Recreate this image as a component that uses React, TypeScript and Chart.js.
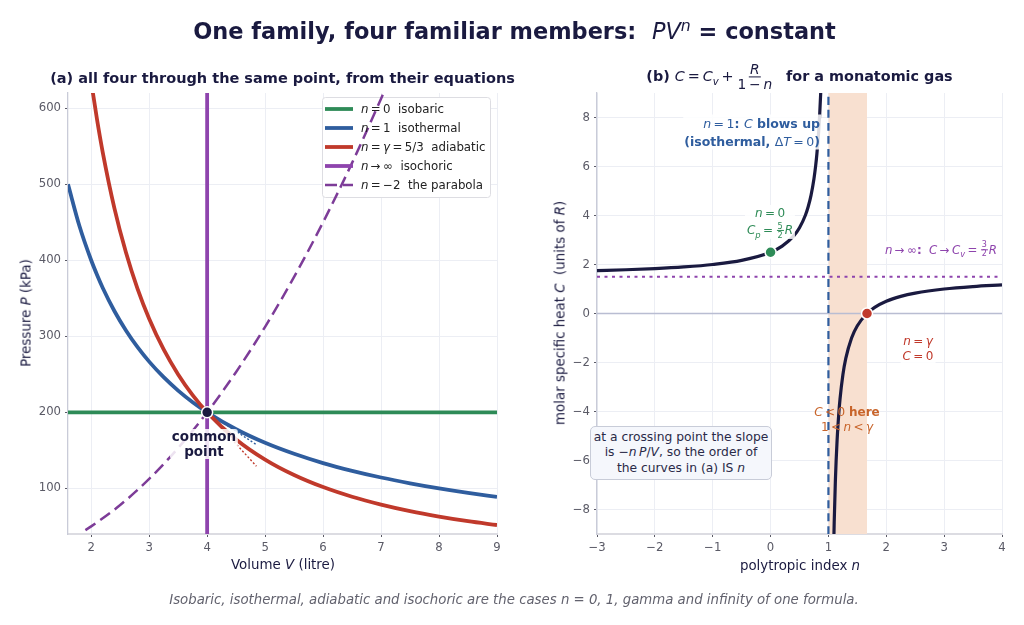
import { useEffect, useRef } from "react";
import type { CSSProperties, ReactNode } from "react";
import { Chart, registerables } from "chart.js";

Chart.register(...registerables);

const NAVY = "#1a1a40";
const GREEN = "#2e8b57";
const BLUE = "#2f5d9e";
const RED = "#c0392b";
const PURPLE = "#8e44ad";
const DEEP_PURPLE = "#7d3c98";
const ORANGE = "#c8642a";
const FONT = "'DejaVu Sans', sans-serif";

// panel (a): pressure against volume
const volumes = [1.6, 1.8, 2, 2.1, 2.2, 2.4, 2.6, 2.8, 3, 3.25, 3.5, 3.75, 4, 4.5, 5, 5.5, 6, 6.5, 7, 7.5, 8, 8.5, 9];
const isobaric = [200, 200, 200, 200, 200, 200, 200, 200, 200, 200, 200, 200, 200, 200, 200, 200, 200, 200, 200, 200, 200, 200, 200];
const isothermal = [500, 444.4, 400, 381, 363.6, 333.3, 307.7, 285.7, 266.7, 246.2, 228.6, 213.3, 200, 177.8, 160, 145.5, 133.3, 123.1, 114.3, 106.7, 100, 94.1, 88.9];
const adiabaticV = [2, 2.1, 2.2, 2.4, 2.6, 2.8, 3, 3.25, 3.5, 3.75, 4, 4.5, 5, 5.5, 6, 6.5, 7, 7.5, 8, 8.5, 9];
const adiabatic = [635, 585.4, 541.7, 468.6, 410.1, 362.4, 323.1, 282.7, 249.9, 222.7, 200, 164.4, 137.9, 117.6, 101.7, 89, 78.7, 70.1, 63, 56.9, 51.8];
const parabolaV = [1.9, 2, 2.5, 3, 3.5, 4, 4.5, 5, 5.5, 6, 6.5, 7, 7.1];
const parabola = [45.1, 50, 78.1, 112.5, 153.1, 200, 253.1, 312.5, 378.1, 450, 528.1, 612.5, 630.1];
const isochoricV = [4, 4];
const isochoricP = [40, 620];
const tangentV = [4, 4.85];
const tangentIso = [200, 157.5];
const tangentAdi = [200, 129.2];
const commonV = [4];
const commonP = [200];
const volumeTicks = [2, 3, 4, 5, 6, 7, 8, 9];
const pressureTicks = [100, 200, 300, 400, 500, 600];

// panel (b): molar heat against polytropic index
const indexLeft = [-3, -2.5, -2, -1.5, -1, -0.5, 0, 0.2, 0.4, 0.5, 0.6, 0.65, 0.7, 0.75, 0.78, 0.8, 0.83, 0.85, 0.87];
const heatLeft = [1.75, 1.786, 1.833, 1.9, 2, 2.167, 2.5, 2.75, 3.167, 3.5, 4, 4.357, 4.833, 5.5, 6.045, 6.5, 7.382, 8.167, 9.192];
const indexRight = [1.09, 1.1, 1.12, 1.15, 1.18, 1.2, 1.25, 1.3, 1.4, 1.5, 1.667, 1.8, 2, 2.25, 2.5, 3, 3.5, 4];
const heatRight = [-9.61, -8.5, -6.833, -5.167, -4.056, -3.5, -2.5, -1.833, -1, -0.5, 0, 0.25, 0.5, 0.7, 0.833, 1, 1.1, 1.167];
const bandIndex = [1, 1.667];
const bandTop = [9, 9];
const blowUpIndex = [1, 1];
const blowUpHeat = [-9, 9];
const limitIndex = [-3, 4];
const limitHeat = [1.5, 1.5];
const zeroHeat = [0, 0];
const indexTicks = [-3, -2, -1, 0, 1, 2, 3, 4];
const heatTicks = [-8, -6, -4, -2, 0, 2, 4, 6, 8];

const pts = (xs: number[], ys: number[]) => xs.map((x, i) => ({ x, y: ys[i] }));

function axis(min: number, max: number, values: number[], borderColor: string, borderWidth: number) {
  return {
    type: "linear" as const,
    min,
    max,
    afterBuildTicks: (a: any) => {
      a.ticks = values.map((value) => ({ value }));
    },
    ticks: {
      color: "#5a5a66",
      padding: 4,
      maxRotation: 0,
      autoSkip: false,
      font: { family: FONT, size: 11.7 },
      callback: (v: any) => String(v).replace("-", "\u2212"),
    },
    grid: { color: "#eceef4", lineWidth: 1, tickColor: "#5a5a66", tickLength: 3 },
    border: { color: borderColor, width: borderWidth },
  };
}

function line(data: { x: number; y: number }[], color: string, width: number, dash: number[] = []) {
  return {
    data,
    borderColor: color,
    borderWidth: width,
    borderDash: dash,
    pointRadius: 0,
    cubicInterpolationMode: "monotone" as const,
    showLine: true,
    fill: false,
  };
}

function marker(data: { x: number; y: number }[], color: string) {
  return {
    data,
    showLine: false,
    pointRadius: 5.5,
    pointBackgroundColor: color,
    pointBorderColor: "#ffffff",
    pointBorderWidth: 1.5,
  };
}

// the legend's white box sits under the curves, as the dashed line runs over it
const legendBox = {
  id: "legendBox",
  beforeDatasetsDraw(chart: any) {
    const c = chart.ctx;
    c.save();
    c.beginPath();
    c.roundRect(322.5, 97.5, 168, 100, 3);
    c.fillStyle = "#ffffff";
    c.fill();
    c.strokeStyle = "#dddde2";
    c.lineWidth = 1;
    c.stroke();
    c.restore();
  },
};

const I = ({ children }: { children: ReactNode }) => <i style={{ fontWeight: 400 }}>{children}</i>;
const Thin = ({ children }: { children: ReactNode }) => <span style={{ fontWeight: 400 }}>{children}</span>;

function Frac({ top, bottom, size = 0.68 }: { top: ReactNode; bottom: ReactNode; size?: number }) {
  return (
    <span style={{ display: "inline-flex", flexDirection: "column", alignItems: "center", verticalAlign: "middle", fontSize: `${size}em`, lineHeight: 1.02, margin: "0 1px", fontWeight: 400 }}>
      <span style={{ borderBottom: "1px solid currentColor", padding: "0 1px" }}>{top}</span>
      <span>{bottom}</span>
    </span>
  );
}

function Label({ x, y, style, children, anchor = "center" }: { x: number; y: number; style?: CSSProperties; children: ReactNode; anchor?: "center" | "right" }) {
  return (
    <div
      style={{
        position: "absolute",
        left: x,
        top: y,
        transform: anchor === "right" ? "translate(-100%, -50%)" : "translate(-50%, -50%)",
        whiteSpace: "pre",
        textAlign: anchor === "right" ? "right" : "center",
        fontFamily: FONT,
        ...style,
      }}
    >
      {children}
    </div>
  );
}

const legendRows: { color: string; width: number; dash?: string; label: ReactNode }[] = [
  { color: GREEN, width: 3.8, label: <><I>n</I>{"\u2009=\u20090  isobaric"}</> },
  { color: BLUE, width: 3.8, label: <><I>n</I>{"\u2009=\u20091  isothermal"}</> },
  { color: RED, width: 3.8, label: <><I>n</I>{"\u2009=\u2009"}<I>γ</I>{"\u2009=\u20095/3  adiabatic"}</> },
  { color: PURPLE, width: 3.8, label: <><I>n</I>{"\u2009→\u2009∞  isochoric"}</> },
  { color: DEEP_PURPLE, width: 2.5, dash: "12 6", label: <><I>n</I>{"\u2009=\u2009−2  the parabola"}</> },
];

export default function App() {
  const leftRef = useRef<HTMLCanvasElement>(null);
  const rightRef = useRef<HTMLCanvasElement>(null);

  useEffect(() => {
    if (!leftRef.current || !rightRef.current) return;

    const left = new Chart(leftRef.current, {
      type: "scatter",
      plugins: [legendBox],
      data: {
        datasets: [
          marker(pts(commonV, commonP), NAVY),
          line(pts(parabolaV, parabola), DEEP_PURPLE, 2.5, [12, 6]),
          line(pts(isochoricV, isochoricP), PURPLE, 3.8),
          line(pts(adiabaticV, adiabatic), RED, 3.8),
          line(pts(volumes, isothermal), BLUE, 3.8),
          line(pts(volumes, isobaric), GREEN, 3.8),
          line(pts(tangentV, tangentAdi), RED, 1.4, [2, 2]),
          line(pts(tangentV, tangentIso), BLUE, 1.4, [2, 2]),
        ] as any,
      },
      options: {
        animation: false,
        responsive: false,
        layout: { padding: { left: 0, right: 15, top: 93, bottom: 61 } },
        plugins: { legend: { display: false }, tooltip: { enabled: false } },
        scales: {
          x: { ...axis(1.6, 9, volumeTicks, "#dcdce2", 2), afterFit: (a: any) => { a.height = 30; } },
          y: { ...axis(40, 620, pressureTicks, "#c9cbd8", 1.3), afterFit: (a: any) => { a.width = 68; } },
        } as any,
      },
    });

    const right = new Chart(rightRef.current, {
      type: "scatter",
      data: {
        datasets: [
          marker(pts([0], [2.5]), GREEN),
          marker(pts([1.667], [0]), RED),
          line(pts(indexLeft, heatLeft), NAVY, 3.2),
          line(pts(indexRight, heatRight), NAVY, 3.2),
          line(pts(blowUpIndex, blowUpHeat), BLUE, 2.2, [8, 5]),
          line(pts(limitIndex, limitHeat), PURPLE, 2, [3, 4.5]),
          line(pts(limitIndex, zeroHeat), "#b9bdd2", 1.4),
          { ...line(pts(bandIndex, bandTop), "rgba(0,0,0,0)", 0), fill: { value: -9 }, backgroundColor: "#f8e0d0" },
        ] as any,
      },
      options: {
        animation: false,
        responsive: false,
        layout: { padding: { left: 0, right: 22, top: 93, bottom: 61 } },
        plugins: { legend: { display: false }, tooltip: { enabled: false } },
        scales: {
          x: { ...axis(-3, 4, indexTicks, "#dcdce2", 2), afterFit: (a: any) => { a.height = 30; } },
          y: { ...axis(-9, 9, heatTicks, "#c9cbd8", 1.3), afterFit: (a: any) => { a.width = 85; } },
        } as any,
      },
    });

    return () => {
      left.destroy();
      right.destroy();
    };
  }, []);

  const axisTitle: CSSProperties = { fontSize: 13.4, color: NAVY };
  const halo = "rgba(255,255,255,0.85)";

  return (
    <div style={{ position: "absolute", left: 0, top: 0, width: 1024, height: 625, background: "#fff", overflow: "hidden" }}>
      <canvas ref={leftRef} width={512} height={625} style={{ position: "absolute", left: 0, top: 0 }} />
      <canvas ref={rightRef} width={512} height={625} style={{ position: "absolute", left: 512, top: 0 }} />

      <Label x={514.5} y={31} style={{ fontSize: 22.45, fontWeight: 700, color: NAVY }}>
        {"One family, four familiar members:  "}
        <I>PV</I>
        <sup style={{ fontSize: "0.7em", lineHeight: 0, fontWeight: 400 }}><i>n</i></sup>
        {" = constant"}
      </Label>

      <Label x={282.5} y={78} style={{ fontSize: 14.5, fontWeight: 700, color: NAVY }}>
        (a) all four through the same point, from their equations
      </Label>
      <Label x={799.5} y={77} style={{ fontSize: 14.4, fontWeight: 700, color: NAVY }}>
        {"(b) "}
        <Thin><I>C</I>{"\u2009=\u2009"}<I>C</I><sub style={{ fontSize: "0.7em", lineHeight: 0 }}><i>v</i></sub>{"\u2009+\u2009"}</Thin>
        <Frac size={0.96} top={<I>R</I>} bottom={<Thin>1{"\u2009−\u2009"}<I>n</I></Thin>} />
        {"  \u2009for a monatomic gas"}
      </Label>

      <Label x={283} y={564} style={axisTitle}>Volume <I>V</I> (litre)</Label>
      <Label x={800} y={565} style={axisTitle}>polytropic index <I>n</I></Label>
      <Label x={26} y={313} style={{ ...axisTitle, transform: "translate(-50%, -50%) rotate(-90deg)" }}>
        Pressure <I>P</I> (kPa)
      </Label>
      <Label x={560} y={313} style={{ ...axisTitle, transform: "translate(-50%, -50%) rotate(-90deg)" }}>
        {"molar specific heat "}<I>C</I>{"  (units of "}<I>R</I>)
      </Label>

      {legendRows.map((r, i) => (
        <div key={i} style={{ position: "absolute", left: 325, top: 99.5 + i * 19, height: 18, display: "flex", alignItems: "center", fontFamily: FONT, fontSize: 11.8, color: "#222", whiteSpace: "pre" }}>
          <svg width={28} height={6} style={{ marginRight: 8 }}>
            <line x1={0} y1={3} x2={28} y2={3} stroke={r.color} strokeWidth={r.width} strokeDasharray={r.dash} />
          </svg>
          <span>{r.label}</span>
        </div>
      ))}

      <Label x={204} y={444} style={{ fontSize: 13.5, fontWeight: 700, color: NAVY, lineHeight: "15px", background: halo, padding: "0 2px", borderRadius: 3 }}>
        common{"\n"}point
      </Label>

      <Label x={821} y={132} anchor="right" style={{ fontSize: 12.5, fontWeight: 700, color: BLUE, lineHeight: "17.5px", background: halo, padding: "0 1px" }}>
        <I>n</I><Thin>{"\u2009=\u20091"}</Thin>: <I>C</I> blows up{"\n"}
        (isothermal, <Thin>Δ<I>T</I>{"\u2009=\u20090"}</Thin>)
      </Label>
      <Label x={770} y={222} style={{ fontSize: 12, color: GREEN, lineHeight: "16.5px", background: halo, padding: "0 2px" }}>
        <I>n</I>{"\u2009=\u20090"}{"\n"}
        <I>C</I><sub style={{ fontSize: "0.7em", lineHeight: 0 }}><i>p</i></sub>{"\u2009=\u2009"}<Frac top="5" bottom="2" /><I>R</I>
      </Label>
      <Label x={941} y={250} style={{ fontSize: 11.8, color: PURPLE, background: halo, padding: "0 2px" }}>
        <I>n</I>{"\u2009→\u2009∞"}<b>:</b>{"  "}<I>C</I>{"\u2009→\u2009"}<I>C</I><sub style={{ fontSize: "0.7em", lineHeight: 0 }}><i>v</i></sub>{"\u2009=\u2009"}<Frac top="3" bottom="2" /><I>R</I>
      </Label>
      <Label x={918} y={349} style={{ fontSize: 12, color: RED, lineHeight: "15px", background: halo, padding: "0 2px" }}>
        <I>n</I>{"\u2009=\u2009"}<I>γ</I>{"\n"}
        <I>C</I>{"\u2009=\u20090"}
      </Label>
      <Label x={847} y={420} style={{ fontSize: 12, color: ORANGE, lineHeight: "15px" }}>
        <I>C</I>{"\u2009<\u20090 "}<b>here</b>{"\n"}
        {"1\u2009<\u2009"}<I>n</I>{"\u2009<\u2009"}<I>γ</I>
      </Label>
      <Label x={681} y={453} style={{ width: 180, height: 52, boxSizing: "content-box", fontSize: 12.3, color: "#2a2a48", lineHeight: "15.6px", background: "#f5f7fc", border: "1.3px solid #c8ccd8", borderRadius: 5, display: "flex", flexDirection: "column", justifyContent: "center", alignItems: "center" }}>
        <div>at a crossing point the slope</div>
        <div>is −<I>n</I>{"\u2009"}<I>P</I>/<I>V</I>, so the order of</div>
        <div>the curves in (a) IS <I>n</I></div>
      </Label>

      <Label x={514} y={599} style={{ fontSize: 13.3, fontStyle: "italic", color: "#62626e" }}>
        Isobaric, isothermal, adiabatic and isochoric are the cases n = 0, 1, gamma and infinity of one formula.
      </Label>
    </div>
  );
}
